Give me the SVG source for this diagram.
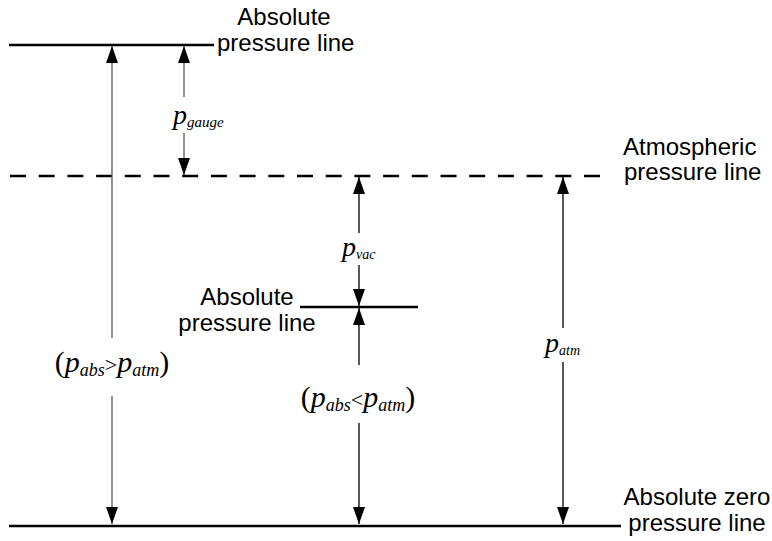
<svg xmlns="http://www.w3.org/2000/svg" width="772" height="541" viewBox="0 0 772 541">
<defs>
<marker id="ah" markerUnits="userSpaceOnUse" markerWidth="18" markerHeight="12" refX="17" refY="6" orient="auto" viewBox="0 0 18 12">
<path d="M0,0 L17,6 L0,12 Z" fill="#000"/>
</marker>
<style>
.lbl{font-family:"Liberation Sans",Arial,sans-serif;font-size:24px;fill:#000}
.m{font-family:"Liberation Serif","Times New Roman",serif;font-style:italic;fill:#000}
.up{font-style:normal}
.ln{stroke:#000;stroke-width:2.5;fill:none}
.dash{stroke-dasharray:16 12.7}
.arr{stroke:#000;stroke-width:1.3;fill:none;marker-end:url(#ah)}
.grey{stroke:#555}
</style>
</defs>
<rect width="772" height="541" fill="#fff"/>

<g id="abs-line-top">
<line class="ln" x1="9" y1="45" x2="214" y2="45"/>
<text class="lbl" x="284" y="25" text-anchor="middle">Absolute</text>
<text class="lbl" x="217" y="51">pressure line</text>
</g>

<g id="atm-line">
<line class="ln dash" x1="10" y1="176" x2="610" y2="176"/>
<text class="lbl" x="623" y="155">Atmospheric</text>
<text class="lbl" x="624" y="180">pressure line</text>
</g>

<g id="abs-line-mid">
<line class="ln" x1="300" y1="307" x2="418" y2="307"/>
<text class="lbl" x="247" y="305" text-anchor="middle">Absolute</text>
<text class="lbl" x="247" y="331" text-anchor="middle">pressure line</text>
</g>

<g id="abs-zero-line">
<line class="ln" x1="9" y1="526" x2="621" y2="526"/>
<text class="lbl" x="697" y="505" text-anchor="middle">Absolute zero</text>
<text class="lbl" x="697" y="531" text-anchor="middle">pressure line</text>
</g>

<g id="connectors">
<line class="arr grey" x1="112" y1="338" x2="112" y2="46"/>
<line class="arr grey" x1="112" y1="396" x2="112" y2="524"/>
<line class="arr grey" x1="184" y1="97" x2="184" y2="46"/>
<line class="arr grey" x1="184" y1="133" x2="184" y2="175"/>
<line class="arr" x1="359" y1="233" x2="359" y2="177"/>
<line class="arr" x1="359" y1="265" x2="359" y2="306"/>
<line class="arr" x1="359" y1="365" x2="359" y2="308"/>
<line class="arr" x1="359" y1="423" x2="359" y2="524"/>
<line class="arr" x1="563" y1="328" x2="563" y2="177"/>
<line class="arr" x1="563" y1="362" x2="563" y2="524"/>
</g>

<g id="label-gauge">
<text class="m" x="173" y="124" font-size="28">p<tspan font-size="15" dy="3">gauge</tspan></text>
</g>
<g id="label-vac">
<text class="m" x="342" y="256" font-size="28">p<tspan font-size="14" dy="3">vac</tspan></text>
</g>
<g id="label-atm">
<text class="m" x="545" y="352" font-size="28">p<tspan font-size="14" dy="3">atm</tspan></text>
</g>
<g id="label-gt">
<text class="m" x="112" y="372" font-size="30" text-anchor="middle"><tspan class="up">(</tspan>p<tspan font-size="18" dy="4">abs</tspan><tspan class="up" font-size="22" dy="-4">&gt;</tspan>p<tspan font-size="18" dy="4">atm</tspan><tspan class="up" dy="-4">)</tspan></text>
</g>
<g id="label-lt">
<text class="m" x="358" y="407" font-size="30" text-anchor="middle"><tspan class="up">(</tspan>p<tspan font-size="18" dy="4">abs</tspan><tspan class="up" font-size="22" dy="-4">&lt;</tspan>p<tspan font-size="18" dy="4">atm</tspan><tspan class="up" dy="-4">)</tspan></text>
</g>
</svg>
